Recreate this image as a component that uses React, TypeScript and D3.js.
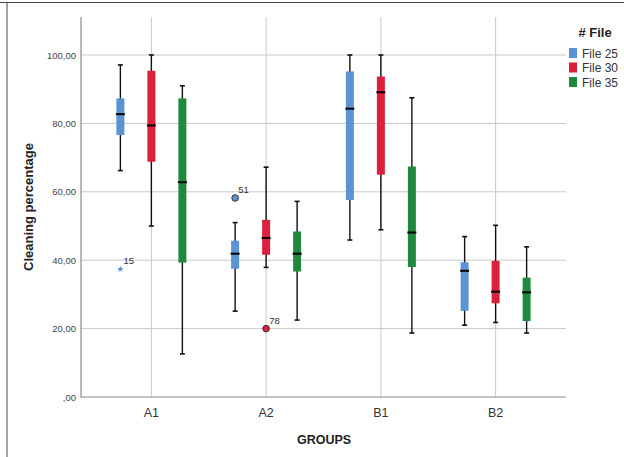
import React, { useEffect, useRef } from 'react';
import * as d3 from 'd3';

const groups = ['A1', 'A2', 'B1', 'B2'];
const files = ['File 25', 'File 30', 'File 35'];
const colors = ['#5b93d3', '#dc1f3c', '#1f8a3f'];

// [whiskerLow, q1, median, q3, whiskerHigh] per group, per file
const file25 = [
  [66.2, 76.6, 82.7, 87.3, 97.1],
  [25.1, 37.5, 41.9, 45.7, 51.0],
  [45.9, 57.6, 84.3, 95.2, 100],
  [21.0, 25.2, 36.9, 39.4, 46.9],
];
const file30 = [
  [50.0, 68.8, 79.4, 95.4, 100],
  [37.9, 41.6, 46.5, 51.8, 67.2],
  [48.9, 65.0, 89.1, 93.7, 100],
  [21.8, 27.4, 30.8, 39.8, 50.2],
];
const file35 = [
  [12.6, 39.3, 62.8, 87.3, 91.0],
  [22.5, 36.7, 41.9, 48.4, 57.2],
  [18.7, 38.0, 48.1, 67.4, 87.5],
  [18.7, 22.2, 30.6, 34.9, 43.9],
];

// outliers: group, file index, value, case label, kind
const outliers = [
  { group: 'A1', file: 0, value: 37.4, label: '15', kind: 'extreme' },
  { group: 'A2', file: 0, value: 58.2, label: '51', kind: 'circle' },
  { group: 'A2', file: 1, value: 20.0, label: '78', kind: 'circle' },
];

const yTicks = [0, 20, 40, 60, 80, 100];

const App = () => {
  const ref = useRef<SVGSVGElement>(null);

  useEffect(() => {
    const svg = d3.select(ref.current);
    svg.selectAll('*').remove();

    const width = 624;
    const height = 457;
    const left = 81;
    const right = 566;
    const top = 17;
    const bottom = 397;

    svg.attr('width', width).attr('height', height);

    // frame
    svg.append('line').attr('x1', 0).attr('x2', width).attr('y1', 2.5).attr('y2', 2.5)
      .attr('stroke', '#444').attr('stroke-width', 1);
    svg.append('line').attr('x1', 7).attr('x2', 7).attr('y1', 2.5).attr('y2', height)
      .attr('stroke', '#444').attr('stroke-width', 1);

    const y = d3.scaleLinear().domain([0, 100]).range([bottom, 55]);
    const x = d3.scaleBand().domain(groups).range([left + 13, right - 13]).paddingInner(0).paddingOuter(0);
    const xc = (g: string) => (x(g) as number) + x.bandwidth() / 2;
    const offset = d3.scaleLinear().domain([0, 2]).range([-31, 31]);

    const g = svg.append('g');

    // gridlines
    g.selectAll('.hgrid')
      .data(yTicks.filter(t => t > 0))
      .enter()
      .append('line')
      .attr('x1', left).attr('x2', right)
      .attr('y1', d => y(d)).attr('y2', d => y(d))
      .attr('stroke', '#c9c9c9').attr('stroke-width', 1);

    g.selectAll('.vgrid')
      .data(groups)
      .enter()
      .append('line')
      .attr('x1', d => xc(d)).attr('x2', d => xc(d))
      .attr('y1', top).attr('y2', bottom)
      .attr('stroke', '#c9c9c9').attr('stroke-width', 1);

    // axes lines
    g.append('line').attr('x1', left).attr('x2', left).attr('y1', top).attr('y2', bottom + 0.5)
      .attr('stroke', '#8a8a8a').attr('stroke-width', 1.2);
    g.append('line').attr('x1', left).attr('x2', right).attr('y1', bottom).attr('y2', bottom)
      .attr('stroke', '#8a8a8a').attr('stroke-width', 1.2);

    // y tick labels
    g.selectAll('.ytl')
      .data(yTicks)
      .enter()
      .append('text')
      .attr('x', left - 5)
      .attr('y', d => y(d) + 3.5)
      .attr('text-anchor', 'end')
      .attr('font-family', 'Arial, Liberation Sans, sans-serif')
      .attr('font-size', '9.5px')
      .attr('fill', '#444')
      .text(d => (d === 0 ? ',00' : d.toFixed(2).replace('.', ',')));

    // x tick labels
    g.selectAll('.xtl')
      .data(groups)
      .enter()
      .append('text')
      .attr('x', d => xc(d))
      .attr('y', 417)
      .attr('text-anchor', 'middle')
      .attr('font-family', 'Arial, Liberation Sans, sans-serif')
      .attr('font-size', '12.5px')
      .attr('fill', '#333')
      .text(d => d);

    // axis titles
    svg.append('text')
      .attr('x', 324)
      .attr('y', 444)
      .attr('text-anchor', 'middle')
      .attr('font-family', 'Arial, Liberation Sans, sans-serif')
      .attr('font-size', '12.5px')
      .attr('font-weight', 'bold')
      .attr('fill', '#222')
      .text('GROUPS');

    svg.append('text')
      .attr('transform', 'rotate(-90)')
      .attr('x', -207)
      .attr('y', 33)
      .attr('text-anchor', 'middle')
      .attr('font-family', 'Arial, Liberation Sans, sans-serif')
      .attr('font-size', '13px')
      .attr('font-weight', 'bold')
      .attr('fill', '#222')
      .text('Cleaning percentage');

    // boxes
    const series = [file25, file30, file35];
    const boxW = 8;
    series.forEach((s, fi) => {
      const bg = g.append('g');
      const data = s.map((v, i) => ({ group: groups[i], v }));
      const cx = (d: { group: string }) => xc(d.group) + offset(fi);

      // whiskers
      bg.selectAll('.wh')
        .data(data)
        .enter()
        .append('line')
        .attr('x1', d => cx(d)).attr('x2', d => cx(d))
        .attr('y1', d => y(d.v[0])).attr('y2', d => y(d.v[4]))
        .attr('stroke', '#111').attr('stroke-width', 1.4);

      // caps
      [0, 4].forEach(k => {
        bg.selectAll('.cap' + k)
          .data(data)
          .enter()
          .append('line')
          .attr('x1', d => cx(d) - 2.5).attr('x2', d => cx(d) + 2.5)
          .attr('y1', d => y(d.v[k])).attr('y2', d => y(d.v[k]))
          .attr('stroke', '#111').attr('stroke-width', 1.6);
      });

      // box
      bg.selectAll('.box')
        .data(data)
        .enter()
        .append('rect')
        .attr('x', d => cx(d) - boxW / 2)
        .attr('width', boxW)
        .attr('y', d => y(d.v[3]))
        .attr('height', d => y(d.v[1]) - y(d.v[3]))
        .attr('fill', colors[fi]);

      // median
      bg.selectAll('.med')
        .data(data)
        .enter()
        .append('line')
        .attr('x1', d => cx(d) - boxW / 2 - 0.5).attr('x2', d => cx(d) + boxW / 2 + 0.5)
        .attr('y1', d => y(d.v[2])).attr('y2', d => y(d.v[2]))
        .attr('stroke', '#000').attr('stroke-width', 2);
    });

    // outliers
    outliers.forEach(o => {
      const ox = xc(o.group) + offset(o.file);
      const oy = y(o.value);
      if (o.kind === 'circle') {
        g.append('circle')
          .attr('cx', ox).attr('cy', oy).attr('r', 3.3)
          .attr('fill', colors[o.file]).attr('stroke', '#333').attr('stroke-width', 1);
      } else {
        g.append('path')
          .attr('transform', `translate(${ox},${oy})`)
          .attr('d', d3.symbol(d3.symbolStar, 14)())
          .attr('fill', colors[o.file]);
      }
      g.append('text')
        .attr('x', ox + 3)
        .attr('y', oy - 5)
        .attr('font-family', 'Arial, Liberation Sans, sans-serif')
        .attr('font-size', '9.5px')
        .attr('fill', '#333')
        .text(o.label);
    });

    // legend
    const lg = svg.append('g');
    lg.append('text')
      .attr('x', 595)
      .attr('y', 37)
      .attr('text-anchor', 'middle')
      .attr('font-family', 'Arial, Liberation Sans, sans-serif')
      .attr('font-size', '13px')
      .attr('font-weight', 'bold')
      .attr('fill', '#222')
      .text('# File');

    const ly = d3.scaleLinear().domain([0, 2]).range([53, 82]);
    lg.selectAll('.sw')
      .data(files)
      .enter()
      .append('rect')
      .attr('x', 569)
      .attr('y', (d, i) => ly(i) - 5)
      .attr('width', 8)
      .attr('height', 10)
      .attr('fill', (d, i) => colors[i]);

    lg.selectAll('.lt')
      .data(files)
      .enter()
      .append('text')
      .attr('x', 582)
      .attr('y', (d, i) => ly(i) + 4.5)
      .attr('font-family', 'Arial, Liberation Sans, sans-serif')
      .attr('font-size', '12px')
      .attr('fill', '#333')
      .text(d => d);
  }, []);

  return <svg ref={ref} style={{ display: 'block', position: 'absolute', left: 0, top: 0 }}></svg>;
};

export default App;
